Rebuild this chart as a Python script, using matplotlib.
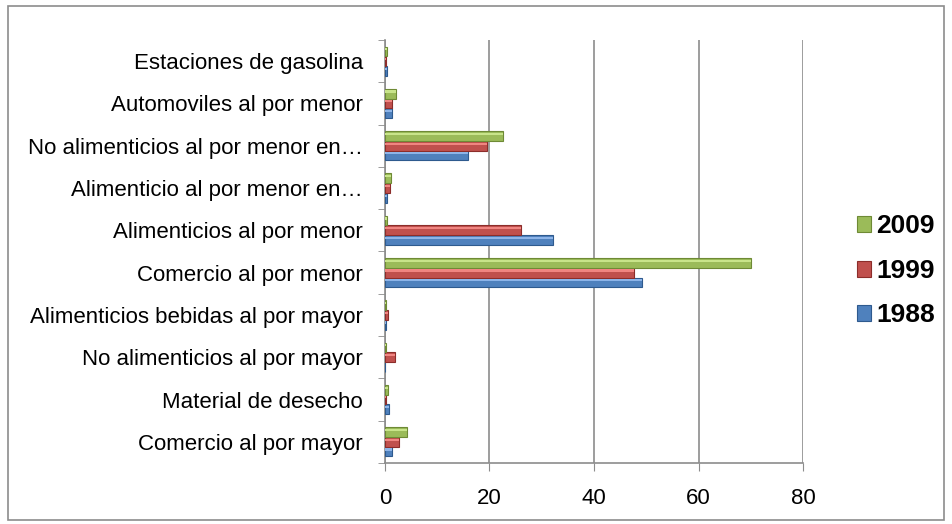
import matplotlib
matplotlib.use("Agg")
import matplotlib.pyplot as plt
from matplotlib.patches import Rectangle
import numpy as np

plt.rcParams['font.family'] = ['Liberation Sans', 'DejaVu Sans']

categories = [
    "Comercio al por mayor",
    "Material de desecho",
    "No alimenticios al por mayor",
    "Alimenticios bebidas al por mayor",
    "Comercio al por menor",
    "Alimenticios al por menor",
    "Alimenticio al por menor en\u2026",
    "No alimenticios al por menor en\u2026",
    "Automoviles al por menor",
    "Estaciones de gasolina",
]
v1988 = [1.3, 0.8, 0.0, 0.1, 49.2, 32.2, 0.3, 15.8, 1.3, 0.3]
v1999 = [2.6, 0.2, 2.0, 0.5, 47.7, 26.1, 1.0, 19.6, 1.4, 0.1]
v2009 = [4.2, 0.6, 0.1, 0.1, 70.0, 0.4, 1.1, 22.5, 2.1, 0.3]
years = ["1988", "1999", "2009"]
colors = ["#4F81BD", "#C0504D", "#9BBB59"]
edges = ["#2E5A8E", "#8C2D2A", "#6E8A35"]
lights = ["#8DB4E8", "#F08581", "#C8E48A"]


def main():
    fig = plt.figure(figsize=(9.52, 5.24), dpi=100)
    fig.patches.append(Rectangle((0.008, 0.008), 0.984, 0.98, transform=fig.transFigure,
                                 fill=False, edgecolor="#8c8c8c", linewidth=1.2))
    ax = fig.add_axes([0.4044, 0.1164, 0.4391, 0.8073])

    y = np.arange(len(categories))
    h = 0.23
    handles = []
    for i, vals in enumerate([v1988, v1999, v2009]):
        pos = y + (i - 1) * h
        b = ax.barh(pos, vals, height=h, color=colors[i], edgecolor=edges[i],
                    linewidth=0.8, zorder=3, label=years[i])
        # light bevel stripe near the top of each bar
        ax.barh(pos + h * 0.22, vals, height=h * 0.22, color=lights[i],
                linewidth=0, zorder=4)
        handles.append(b)

    ax.set_xlim(0, 80)
    ax.set_ylim(-0.5, len(categories) - 0.5)
    ax.set_xticks([0, 20, 40, 60, 80])
    ax.tick_params(axis='x', length=6, color="#8c8c8c", labelsize=16, pad=12)
    ax.set_yticks(y)
    ax.set_yticklabels(categories, fontsize=16)
    ax.set_yticks(np.arange(-0.5, len(categories), 1), minor=True)
    ax.tick_params(axis='y', which='major', length=0, pad=16)
    ax.tick_params(axis='y', which='minor', length=5, color="#8c8c8c")
    ax.grid(axis='x', color="#8c8c8c", linewidth=1.2, zorder=0)
    for s in ["top", "right"]:
        ax.spines[s].set_visible(False)
    for s in ["left", "bottom"]:
        ax.spines[s].set_color("#8c8c8c")
        ax.spines[s].set_linewidth(1.2)

    fig.legend(handles[::-1], years[::-1], loc="center left",
               bbox_to_anchor=(0.900, 0.483), frameon=False,
               prop={'weight': 'bold', 'size': 19}, handlelength=0.55,
               handleheight=0.55, handletextpad=0.2, labelspacing=0.78,
               borderaxespad=0, borderpad=0)

    fig.savefig("out.png", dpi=100)


if __name__ == "__main__":
    main()
